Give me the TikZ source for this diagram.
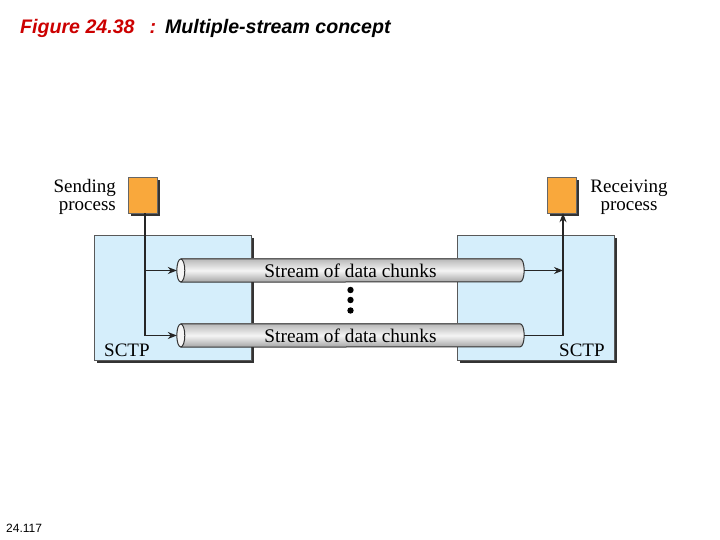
\documentclass[tikz,border=0pt]{standalone}
\usepackage{fontspec}
\setmainfont{Liberation Serif}
\newfontfamily\arialfont{Liberation Sans}
\usetikzlibrary{shadows,arrows.meta}
\definecolor{figred}{RGB}{204,0,0}
\definecolor{sctpblue}{RGB}{213,238,251}
\definecolor{procorange}{RGB}{249,168,60}

\begin{document}
\begin{tikzpicture}[x=1pt,y=1pt,
    shdw/.style={drop shadow={shadow xshift=3pt,shadow yshift=-3pt,fill=black!80,opacity=1}},
    sctp/.style={shdw,draw=black!65,fill=sctpblue,minimum width=157pt,minimum height=125pt},
    proc/.style={shdw,draw=black!60,fill=procorange,minimum width=29pt,minimum height=36pt,inner sep=0pt},
    pipe/.style={minimum width=339pt,minimum height=23pt,inner sep=0pt,
      top color=gray!55,bottom color=gray!70,middle color=gray!8,font=\fontsize{19.3}{20}\selectfont},
    pipeshade/.style={top color=gray!55,bottom color=gray!70,middle color=gray!8},
    lbl/.style={inner sep=0pt,font=\fontsize{19}{18.5}\selectfont},
    conn/.style={line width=1.1pt,black!85},
    >={Stealth[length=9pt,width=7pt]}]
  \useasboundingbox (0,0) rectangle (720,540);

  % title and page number
  \node[anchor=base west,inner sep=0pt,font=\arialfont\itshape\bfseries\fontsize{19.6}{22}\selectfont] (title) at (20,506)
    {\textcolor{figred}{Figure 24.38\hspace{15pt}:}\hspace{9pt}Multiple-stream concept};
  \node[anchor=base west,inner sep=0pt,font=\arialfont\fontsize{12}{14}\selectfont] (page) at (6,7) {24.117};

  % the two SCTP boxes and processes
  \node[sctp] (lbox) at (172.5,242.5) {};
  \node[sctp] (rbox) at (535.5,242.5) {};
  \node[lbl,anchor=base west] (lsctp) at (104,183) {SCTP};
  \node[lbl,anchor=base west] (rsctp) at (559,183) {SCTP};
  \node[proc] (lsq) at (142.5,345) {};
  \node[proc] (rsq) at (561.5,345) {};
  \node[lbl,align=right,anchor=base east] (snd) at (116,329) {Sending\\process};
  \node[lbl,align=center,anchor=base] (rcv) at (629,329) {Receiving\\process};

  % streams
  \node[pipe] (p1) at (350.5,269.5) {Stream of data chunks};
  \node[pipe] (p2) at (350.5,204.5) {Stream of data chunks};
  \foreach \p in {p1,p2} {
    \shade[pipeshade] (\p.north east) arc[start angle=90,end angle=-90,x radius=4pt,y radius=11.5pt] -- cycle;
    \draw[black!80,line width=1pt] (\p.north west) -- (\p.north east)
      arc[start angle=90,end angle=-90,x radius=4pt,y radius=11.5pt] -- (\p.south west);
    \filldraw[draw=black!80,line width=1pt,fill=gray!8] (\p.west) ellipse[x radius=4pt,y radius=11.5pt];
  }
  \foreach \y in {250,240,229.5}
    \fill (350.5,\y) circle (3.2pt);

  % connections
  \coordinate (ls) at ([xshift=2.5pt]lsq.south);
  \coordinate (rs) at ([xshift=1.5pt]rsq.south);
  \draw[conn,->] (ls) |- ([xshift=-4pt]p2.west);
  \draw[conn,->] (ls |- p1.west) -- ([xshift=-4pt]p1.west);
  \draw[conn,->] ([xshift=4pt]p1.east) -- (rs |- p1.east);
  \draw[conn,->] ([xshift=4pt]p2.east) -| (rs);
\end{tikzpicture}
\end{document}
